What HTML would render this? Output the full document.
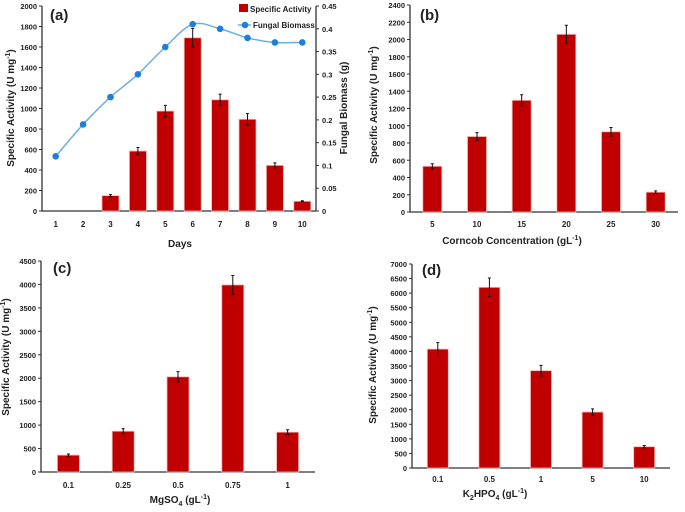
<!DOCTYPE html>
<html><head><meta charset="utf-8"><style>
body{margin:0;background:#fff;}
svg text{font-family:"Liberation Sans",sans-serif;font-weight:bold;fill:#222;}
</style></head><body>
<svg id="s" width="685" height="507" viewBox="0 0 685 507" xmlns="http://www.w3.org/2000/svg"></svg>
<script>
const aCats=["1","2","3","4","5","6","7","8","9","10"];
const aVals=[0,0,150,585,975,1690,1085,895,445,95];
const aErr=[0,0,10,35,55,90,55,55,25,5];
const aBio=[0.12,0.19,0.25,0.30,0.36,0.41,0.40,0.38,0.37,0.37];
const aTicks=[0,200,400,600,800,1000,1200,1400,1600,1800,2000];
const aRTicks=[0,0.05,0.1,0.15,0.2,0.25,0.3,0.35,0.4,0.45];
const bCats=["5","10","15","20","25","30"];
const bVals=[530,875,1295,2060,930,230];
const bErr=[30,45,65,105,50,15];
const bTicks=[0,200,400,600,800,1000,1200,1400,1600,1800,2000,2200,2400];
const cCats=["0.1","0.25","0.5","0.75","1"];
const cVals=[360,870,2030,3990,850];
const cErr=[25,55,110,200,50];
const cTicks=[0,500,1000,1500,2000,2500,3000,3500,4000,4500];
const dCats=["0.1","0.5","1","5","10"];
const dVals=[4080,6200,3340,1920,730];
const dErr=[220,320,180,110,40];
const dTicks=[0,500,1000,1500,2000,2500,3000,3500,4000,4500,5000,5500,6000,6500,7000];

const S=document.getElementById('s');
const NS='http://www.w3.org/2000/svg';
function mk(tag,at,parent){const e=document.createElementNS(NS,tag);for(const k in at)e.setAttribute(k,at[k]);(parent||S).appendChild(e);return e;}
function txt(x,y,s,size,anchor,parent,rot){const t=mk('text',{x:x,y:y,'font-size':size,'text-anchor':anchor||'middle'},parent);if(rot)t.setAttribute('transform','rotate(-90 '+x+' '+y+')');t.innerHTML=s;return t;}

function panel(id,L,R,Y0,Y1,cats,vals,errs,ticks,bw,tickY,title,titleX,titleY,ylabX,ylabY,letter,lx,ly){
  const g=mk('g',{});
  
  
  const max=ticks[ticks.length-1];
  const y=v=>Y0-(v/max)*(Y0-Y1);
  const band=(R-L)/cats.length;
  const xc=i=>L+band*(i+0.5);
  const ax=mk('path',{d:`M${L} ${Y1} V${Y0} H${R}`,stroke:'#333','stroke-width':1.3,fill:'none'},g);
  
  
  ticks.forEach(t=>{mk('line',{x1:L-3,x2:L,y1:y(t),y2:y(t),stroke:'#333'},g);
    const tl=txt(L-5,y(t)+3,String(t),7.5,'end',g);
    
    });
  cats.forEach((c,i)=>{
    const v=vals[i];
    if(v>0){const b=mk('rect',{x:xc(i)-bw/2,y:y(v),width:bw,height:Y0-y(v),fill:'#c00000',stroke:'#f3b6b6','stroke-width':0.8},g);
      
      
      const e=errs[i];
      const eb=mk('path',{d:`M${xc(i)} ${y(v+e)} V${y(v-e)} M${xc(i)-1.5} ${y(v+e)} H${xc(i)+1.5} M${xc(i)-1.5} ${y(v-e)} H${xc(i)+1.5}`,stroke:'#111','stroke-width':1},g);
      
      }
    const xl=txt(xc(i),tickY,c,8,'middle',g);
    
    
  });
  const xt=txt(titleX,titleY,title,10,'middle',g);
  
  
  const yt=txt(ylabX,ylabY,'Specific Activity (U mg<tspan dy="-4" font-size="7">-1</tspan><tspan dy="4">)</tspan>',10,'middle',g,true);
  
  
  const pl=txt(lx,ly,letter,15,'start',g);
  
  
  return {y,xc,g};
}

const A=panel('a',42,316,211,6,aCats,aVals,aErr,aTicks,17,227,'Days',180,247,14,108,'(a)',50,20);
const yr=v=>211-(v/0.45)*(211-6);
const ra=mk('line',{x1:316,x2:316,y1:6,y2:211,stroke:'#333','stroke-width':1.3},A.g);


aRTicks.forEach(t=>{mk('line',{x1:316,x2:319,y1:yr(t),y2:yr(t),stroke:'#333'},A.g);
  const l=txt(322,yr(t)+3,String(t),7.5,'start',A.g);
  
  });
const rt=txt(347,108,'Fungal Biomass (g)',10,'middle',A.g,true);


const pts=aBio.map((v,i)=>[A.xc(i),yr(v)]);
let d=`M${pts[0][0]} ${pts[0][1]}`;
for(let i=0;i<pts.length-1;i++){const p0=pts[Math.max(0,i-1)],p1=pts[i],p2=pts[i+1],p3=pts[Math.min(pts.length-1,i+2)];
  d+=` C${p1[0]+(p2[0]-p0[0])/6} ${p1[1]+(p2[1]-p0[1])/6} ${p2[0]-(p3[0]-p1[0])/6} ${p2[1]-(p3[1]-p1[1])/6} ${p2[0]} ${p2[1]}`;}
const ln=mk('path',{d:d,stroke:'#6aaee6','stroke-width':1.5,fill:'none'},A.g);


pts.forEach(p=>{const c=mk('circle',{cx:p[0],cy:p[1],r:3.3,fill:'#1f7fd6'},A.g);
  
  });
const lg=mk('g',{},A.g);


mk('rect',{x:239,y:4,width:9,height:8,fill:'#c00000'},lg);
txt(250,12,'Specific Activity',8,'start',lg);
mk('line',{x1:238,x2:251,y1:25,y2:25,stroke:'#6aaee6','stroke-width':1.5},lg);
mk('circle',{cx:245,cy:25,r:3.3,fill:'#1f7fd6'},lg);
txt(253,28,'Fungal Biomass',8,'start',lg);

panel('b',410,678,212,5,bCats,bVals,bErr,bTicks,19,227,'Corncob Concentration (gL<tspan dy="-4" font-size="7">-1</tspan><tspan dy="4">)</tspan>',512,244,377,105,'(b)',420,20);
panel('c',41,315,472,261,cCats,cVals,cErr,cTicks,22,488,'MgSO<tspan dy="3" font-size="7">4</tspan><tspan dy="-3"> (gL</tspan><tspan dy="-4" font-size="7">-1</tspan><tspan dy="4">)</tspan>',180,503,9,357,'(c)',53,273);
panel('d',412,670,468,264,dCats,dVals,dErr,dTicks,21,482,'K<tspan dy="3" font-size="7">2</tspan><tspan dy="-3">HPO</tspan><tspan dy="3" font-size="7">4</tspan><tspan dy="-3"> (gL</tspan><tspan dy="-4" font-size="7">-1</tspan><tspan dy="4">)</tspan>',495,497,376,365,'(d)',422,275);
</script>
</body></html>
